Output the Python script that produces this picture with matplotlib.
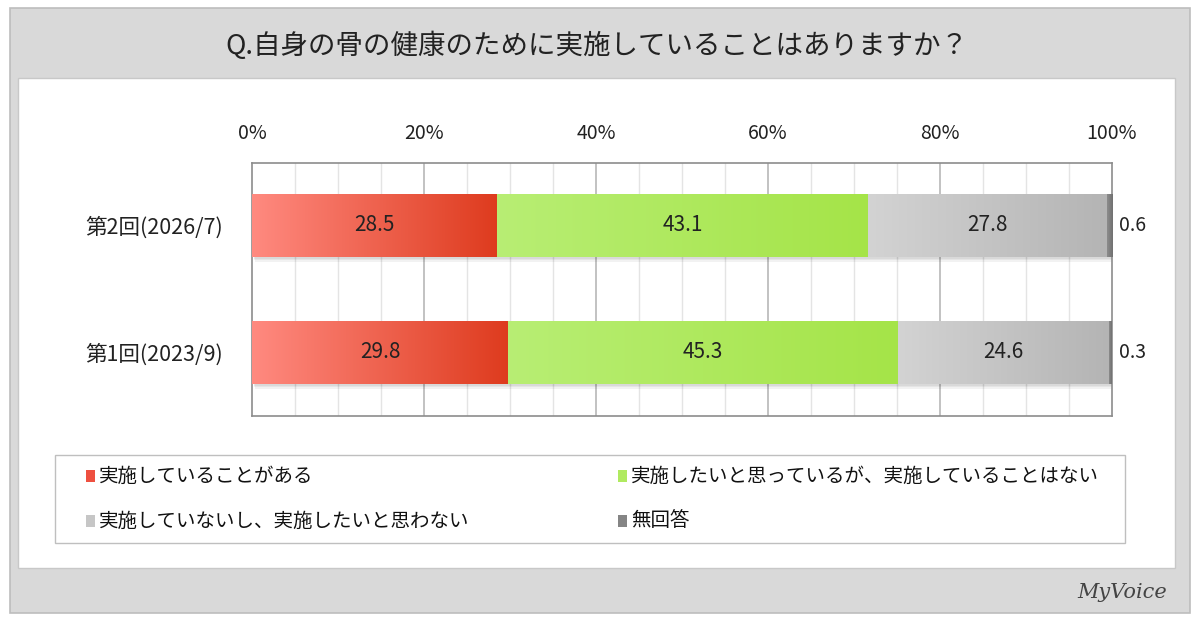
import numpy as np
import matplotlib
matplotlib.use("Agg")
import matplotlib.pyplot as plt
from matplotlib.patches import Rectangle

plt.rcParams["font.family"] = ["Noto Sans CJK JP", "DejaVu Sans"]

# data
title = "Q.自身の骨の健康のために実施していることはありますか？"
categories = ["第2回(2026/7)", "第1回(2023/9)"]
series_names = ["実施していることがある",
                "実施したいと思っているが、実施していることはない",
                "実施していないし、実施したいと思わない",
                "無回答"]
done = [28.5, 29.8]
want = [43.1, 45.3]
not_want = [27.8, 24.6]
no_answer = [0.6, 0.3]
xticks = [0, 20, 40, 60, 80, 100]

# gradient colours (left, right) per series
grads = [("#ff8a80", "#de3b1e"),
         ("#b8ee74", "#a5e448"),
         ("#d3d3d3", "#b4b4b4"),
         ("#8c8c8c", "#707070")]
legend_cols = ["#ee5040", "#b0ea60", "#c6c6c6", "#858585"]

W, H = 1200, 624
fig = plt.figure(figsize=(W / 100, H / 100), dpi=100)
fig.patch.set_facecolor("white")


def px(x, y, w, h):
    return (x / W, 1 - (y + h) / H, w / W, h / H)


# background panels
x0, y0, w0, h0 = px(10, 8, 1180, 605)
fig.patches.append(Rectangle((x0, y0), w0, h0, transform=fig.transFigure,
                             facecolor="#d9d9d9", edgecolor="#bdbdbd", lw=1.2, zorder=-3))
x1, y1, w1, h1 = px(18, 78, 1157, 490)
fig.patches.append(Rectangle((x1, y1), w1, h1, transform=fig.transFigure,
                             facecolor="white", edgecolor="#c8c8c8", lw=1.0, zorder=-2))
x2, y2, w2, h2 = px(55, 455, 1070, 88)
fig.patches.append(Rectangle((x2, y2), w2, h2, transform=fig.transFigure,
                             facecolor="white", edgecolor="#bfbfbf", lw=1.0, zorder=-1))

fig.text(597 / W, 1 - 46 / H, title, ha="center", va="center", fontsize=19.8, color="#222222")

ax = fig.add_axes(px(252, 163, 860, 253))
ax.set_zorder(2)
ax.set_facecolor("white")

for v in range(5, 100, 5):
    if v % 20:
        ax.axvline(v, color="#e4e4e4", lw=1.0, zorder=1)
for v in xticks[1:-1]:
    ax.axvline(v, color="#b8b8b8", lw=1.2, zorder=1)

ax.xaxis.tick_top()
ax.set_xticks(xticks)
ax.set_xticklabels([f"{t}%" for t in xticks], fontsize=14, color="#222222")
ax.tick_params(axis="x", length=0, pad=14)
ax.set_yticks(range(len(categories)))
ax.set_yticklabels(categories, fontsize=15.5, color="#222222")
ax.tick_params(axis="y", length=0, pad=21)
for s in ax.spines.values():
    s.set_color("#8c8c8c")
    s.set_linewidth(1.2)

ypos = np.arange(len(categories))
bar_h = 0.5
series = [done, want, not_want, no_answer]
left = np.zeros(len(categories))
for si, vals in enumerate(series):
    vals = np.array(vals)
    c1, c2 = grads[si]
    cmap = matplotlib.colors.LinearSegmentedColormap.from_list("g%d" % si, [c1, c2])
    for i in range(len(categories)):
        # soft drop shadow
        for k in range(4):
            sh = Rectangle((left[i] + 0.1 + 0.08 * k, ypos[i] - bar_h / 2 + 0.012 * k),
                           vals[i], bar_h, facecolor="#000000", alpha=0.05, lw=0, zorder=2)
            ax.add_patch(sh)
    bars = ax.barh(ypos, vals, left=left, height=bar_h, color=c1, lw=0, zorder=3)
    for i, b in enumerate(bars):
        grad = np.linspace(0, 1, 256).reshape(1, -1)
        im = ax.imshow(grad, cmap=cmap, aspect="auto", zorder=4,
                       extent=(left[i], left[i] + vals[i], ypos[i] + bar_h / 2, ypos[i] - bar_h / 2))
        im.set_clip_path(b)
        if si < 3:
            ax.text(left[i] + vals[i] / 2, ypos[i], f"{vals[i]:.1f}", ha="center", va="center",
                    fontsize=15, color="#222222", zorder=5)
        else:
            ax.text(100.8, ypos[i], f"{vals[i]:.1f}", ha="left", va="center",
                    fontsize=14, color="#222222", zorder=5, clip_on=False)
    left = left + vals
ax.set_xlim(0, 100)
ax.set_ylim(1.5, -0.49)

# legend
leg_pos = [(86, 476), (618, 476), (86, 521), (618, 521)]
for (lx, ly), name, col in zip(leg_pos, series_names, legend_cols):
    sx, sy, sw, shh = px(lx, ly - 6, 9, 12)
    fig.patches.append(Rectangle((sx, sy), sw, shh, transform=fig.transFigure,
                                 facecolor=col, edgecolor="none", zorder=2))
    fig.text((lx + 13) / W, 1 - ly / H, name, ha="left", va="center",
             fontsize=14, color="#111111")

fig.text(1122 / W, 1 - 592 / H, "MyVoice", ha="center", va="center",
         fontsize=15, color="#444444", style="italic", family="DejaVu Serif")

fig.savefig("out.png", dpi=100)
